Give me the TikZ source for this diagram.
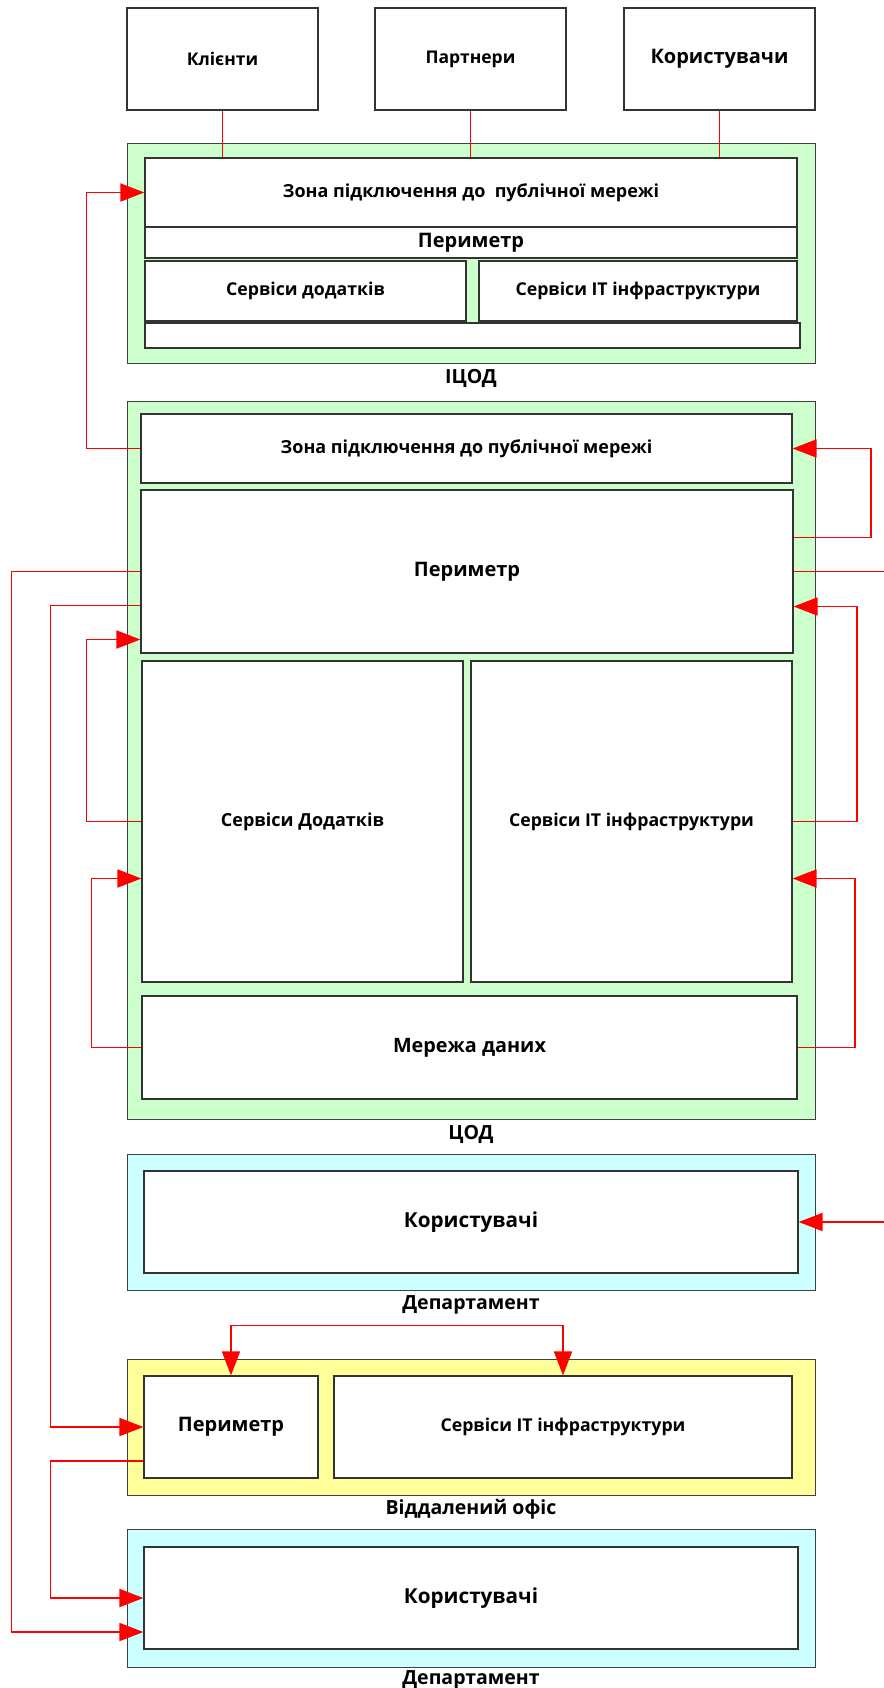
\documentclass[tikz,border=0pt]{standalone}
\usepackage{fontspec}
\setmainfont{Open Sans}
\usetikzlibrary{positioning}
\usetikzlibrary{arrows.meta}
\definecolor{dcgreen}{HTML}{CCFFCC}
\definecolor{deptcyan}{HTML}{CCFFFF}
\definecolor{officeyellow}{HTML}{FFFF99}
\newcommand{\fsz}[1]{\fontsize{#1}{#1}\selectfont\bfseries}

\begin{document}
\begin{tikzpicture}[x=1pt,y=-1pt,
  outer/.style={draw=black!75,line width=1pt,inner sep=0pt},
  box/.style={draw=black!80,fill=white,line width=1.2pt,inner sep=0pt,align=center,font=\fsz{17.7}},
  zonelab/.style={inner sep=0pt,font=\fsz{19.5}},
  link/.style={red,line width=1.8pt},
  feed/.style={red,line width=1pt},
  >={Triangle[length=24pt,width=18pt]}]

  \useasboundingbox (0,0) rectangle (883,1688);

  % External parties on top
  \node[box,minimum width=191,minimum height=102,font=\fsz{17.5}] (cl) at (222.5,59) {Клієнти};
  \node[box,minimum width=191,minimum height=102,font=\fsz{17.5}] (pa) at (470.5,59) {Партнери};
  \node[box,minimum width=191,minimum height=102,font=\fsz{20}] (us) at (719.5,59) {Користувачи};

  % ICOD (backup data centre)
  \node[outer,fill=dcgreen,minimum width=688,minimum height=219] (icod) at (471,253.5) {};
  \node[zonelab,below=6pt of icod] (icodlab) {ІЦОД};
  \node[box,minimum width=652,minimum height=69,font=\fsz{18}] (zone1) at (471,192.5) {Зона підключення до\ \ публічної мережі};
  \node[box,minimum width=652,minimum height=31,font=\fsz{20}] (perim1) at (471,242.5) {Периметр};
  \node[box,minimum width=321,minimum height=60] (apps1) at (305.5,291) {Сервіси додатків};
  \node[box,minimum width=318,minimum height=60] (it1) at (638,291) {Сервіси ІТ інфраструктури};
  \node[box,minimum width=655,minimum height=25] (empty1) at (472.5,335.5) {};

  % COD (main data centre)
  \node[outer,fill=dcgreen,minimum width=688,minimum height=718] (cod) at (471,760) {};
  \node[zonelab,below=6pt of cod] (codlab) {ЦОД};
  \node[box,minimum width=651,minimum height=69,font=\fsz{18}] (zone2) at (466.5,448.5) {Зона підключення до публічної мережі};
  \node[box,minimum width=652,minimum height=163,font=\fsz{20}] (perim2) at (467,571.5) {Периметр};
  \node[box,minimum width=321,minimum height=321,font=\fsz{18}] (apps2) at (302.5,821.5) {Сервіси Додатків};
  \node[box,minimum width=321,minimum height=321] (it2) at (631.5,821.5) {Сервіси ІТ інфраструктури};
  \node[box,minimum width=655,minimum height=103,font=\fsz{19.8}] (data2) at (469.5,1047.5) {Мережа даних};

  % Department
  \node[outer,fill=deptcyan,minimum width=688,minimum height=136] (dep1) at (471,1222) {};
  \node[zonelab,below=5pt of dep1] (dep1lab) {Департамент};
  \node[box,minimum width=654,minimum height=102,font=\fsz{20.7}] (users1) at (471,1222) {Користувачі};

  % Remote office
  \node[outer,fill=officeyellow,minimum width=688,minimum height=136] (office) at (471,1427) {};
  \node[zonelab,below=4pt of office] (officelab) {Віддалений офіс};
  \node[box,minimum width=174,minimum height=102,font=\fsz{20}] (perim3) at (231,1427) {Периметр};
  \node[box,minimum width=458,minimum height=102] (it3) at (563,1427) {Сервіси ІТ інфраструктури};

  % Department
  \node[outer,fill=deptcyan,minimum width=688,minimum height=138] (dep2) at (471,1598) {};
  \node[zonelab,below=3pt of dep2] (dep2lab) {Департамент};
  \node[box,minimum width=654,minimum height=102,font=\fsz{20.7}] (users2) at (471,1598) {Користувачі};

  % public links
  \draw[feed] (cl.south) -- (cl.south |- zone1.north);
  \draw[feed] (pa.south) -- (pa.south |- zone1.north);
  \draw[feed] (us.south) -- (us.south |- zone1.north);

  % links between zones
  \draw[link,->] (zone2.west) -- ++(-54,0) |- (zone1.west);
  \draw[link,->] ([yshift=34pt]perim2.east) -- ++(77,0) |- (zone2.east);
  \draw[link,->] (perim2.east) -- ++(110,0) |- (users1.east);
  \draw[link,->] (perim2.west) -- ++(-129,0) |- ([yshift=-34pt]users2.west);
  \draw[link,->] ([yshift=-34pt]perim2.west) -- ++(-90,0) |- (perim3.west);
  \draw[link,->] (apps2.west) -- ++(-55,0) |- ([yshift=-68pt]perim2.west);
  \draw[link,->] (it2.east) -- ++(64,0) |- ([yshift=-35pt]perim2.east);
  \draw[link,->] (data2.west) -- ++(-50,0) |- ([yshift=-57pt]apps2.west);
  \draw[link,->] (data2.east) -- ++(57,0) |- ([yshift=-57pt]it2.east);
  \draw[link,->] ([yshift=-34pt]perim3.west) -- ++(-93,0) |- (users2.west);
  \draw[link,<->] (perim3.north) -- ++(0,-50) -| (it3.north);
\end{tikzpicture}
\end{document}
